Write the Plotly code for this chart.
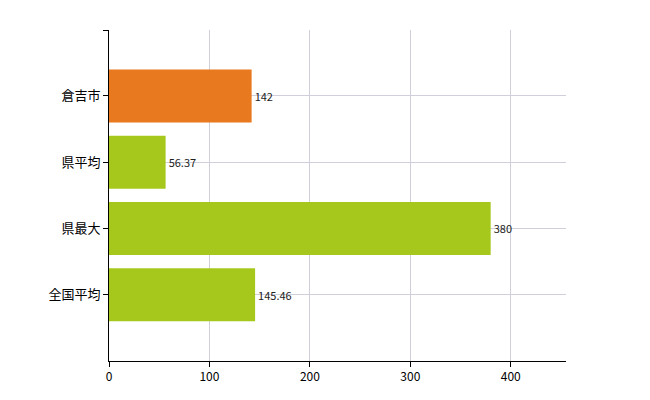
import plotly.graph_objects as go

categories = ["倉吉市", "県平均", "県最大", "全国平均"]
values = [142, 56.37, 380, 145.46]
labels = ["142", "56.37", "380", "145.46"]
colors = ["#E8791E", "#A6C81C", "#A6C81C", "#A6C81C"]
positions = [0, 1, 2, 3]

fig = go.Figure(go.Bar(
    x=values, y=positions, orientation="h", width=0.8,
    marker=dict(color=colors, line=dict(width=0)),
    text=labels, textposition="outside",
    textfont=dict(size=11, color="#222"), cliponaxis=False,
))
fig.update_layout(
    width=650, height=400, plot_bgcolor="white", paper_bgcolor="white",
    margin=dict(l=101, r=92, t=22, b=47), showlegend=False,
    font=dict(family="Noto Sans CJK JP", size=13, color="#000"),
    xaxis=dict(range=[0, 455], tickvals=[0, 100, 200, 300, 400], showline=True,
               linecolor="black", ticks="outside", ticklen=5, tickcolor="black",
               showgrid=True, gridcolor="#cfd0dc", zeroline=False, tickfont=dict(size=12),
               automargin=False),
    yaxis=dict(range=[4, -0.995], tickvals=[-0.995, 0, 1, 2, 3], ticktext=[""] + categories,
               showline=True, linecolor="black", ticks="outside", ticklen=5,
               tickcolor="black", showgrid=True, gridcolor="#cfd0dc", zeroline=False,
               automargin=False),
)
fig.write_html("out.html")
